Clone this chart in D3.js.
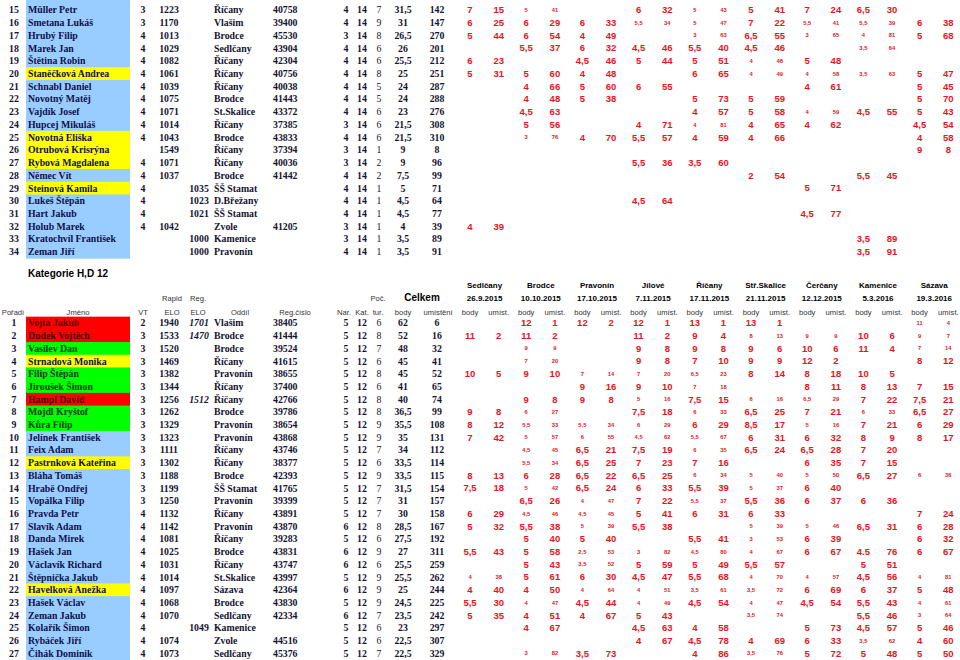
<!DOCTYPE html>
<html>
<head>
<meta charset="utf-8">
<script src="https://cdn.jsdelivr.net/npm/d3@7"></script>
<style>
  body { margin: 0; background: #fff; }
  svg { display: block; }
</style>
</head>
<body>
<script>
// turnaje
const tournaments = ['Sedlčany', 'Brodce', 'Pravonín', 'Jílové', 'Říčany', 'Stř.Skalice', 'Čerčany', 'Kamenice', 'Sázava'];
const tournamentDates = ['26.9.2015', '10.10.2015', '17.10.2015', '7.11.2015', '17.11.2015', '21.11.2015', '12.12.2015', '5.3.2016', '19.3.2016'];

// kategorie 14 (pokracovani) - b modra, y zluta
const k14Rank = [15, 16, 17, 18, 19, 20, 21, 22, 23, 24, 25, 26, 27, 28, 29, 30, 31, 32, 33, 34];
const k14Name = ['Müller Petr', 'Smetana Lukáš', 'Hrubý Filip', 'Marek Jan', 'Štětina Robin', 'Staněčková Andrea',
  'Schnabl Daniel', 'Novotný Matěj', 'Vajdík Josef', 'Hupcej Mikuláš', 'Novotná Eliška', 'Otrubová Krisrýna',
  'Rybová Magdalena', 'Němec Vít', 'Steinová Kamila', 'Lukeš Štěpán', 'Hart Jakub', 'Holub Marek',
  'Kratochvíl František', 'Zeman Jiří'];
const k14Mark = ['b', 'b', 'b', 'b', 'b', 'y', 'b', 'b', 'b', 'b', 'y', 'y', 'y', 'b', 'y', 'b', 'b', 'b', 'b', 'b'];
const k14VT = ['3', '3', '4', '4', '4', '4', '4', '4', '4', '4', '4', '', '4', '4', '4', '4', '4', '4', '', ''];
const k14Rapid = ['1223', '1170', '1013', '1029', '1082', '1061', '1039', '1075', '1071', '1014', '1043', '1549',
  '1071', '1037', '', '', '', '1042', '', ''];
const k14Reg = ['', '', '', '', '', '', '', '', '', '', '', '', '', '', '1035', '1023', '1021', '', '1000', '1000'];
const k14Club = ['Říčany', 'Vlašim', 'Brodce', 'Sedlčany', 'Říčany', 'Říčany', 'Říčany', 'Brodce', 'St.Skalice',
  'Říčany', 'Brodce', 'Říčany', 'Říčany', 'Brodce', 'ŠŠ Stamat', 'D.Břežany', 'ŠŠ Stamat', 'Zvole', 'Kamenice', 'Pravonín'];
const k14RegNo = ['40758', '39400', '45530', '43904', '42304', '40756', '40038', '41443', '43372', '37385', '43833',
  '37394', '40036', '41442', '', '', '', '41205', '', ''];
const k14Nar = [4, 4, 3, 4, 4, 4, 4, 4, 4, 3, 4, 3, 3, 4, 4, 4, 4, 3, 3, 4];
const k14Kat = [14, 14, 14, 14, 14, 14, 14, 14, 14, 14, 14, 14, 14, 14, 14, 14, 14, 14, 14, 14];
const k14Tur = [7, 9, 8, 6, 6, 8, 5, 5, 6, 6, 6, 1, 2, 2, 1, 1, 1, 1, 1, 1];
const k14Body = [31.5, 31, 26.5, 26, 25.5, 25, 24, 24, 23, 21.5, 21.5, 9, 9, 7.5, 5, 4.5, 4.5, 4, 3.5, 3.5];
const k14Place = [142, 147, 270, 201, 212, 251, 287, 288, 276, 308, 310, 8, 96, 99, 71, 64, 77, 39, 89, 91];
// body:umisteni po turnajich, x = nezapocitano, - = nehral
const k14Res = [
  '7:15 5:41x - 6:32 5:43x 5:41 7:24 6,5:30 -',
  '6:25 6:29 6:33 5,5:34x 5:47x 7:22 5,5:41x 5,5:39x 6:38',
  '5:44 6:54 4:49 - 3:63x 6,5:55 3:65x 4:81x 5:68',
  '- 5,5:37 6:32 4,5:46 5,5:40 4,5:46 - 3,5:64x -',
  '6:23 - 4,5:46 5:44 5:51 4:48x 5:48 - -',
  '5:31 5:60 4:48 - 6:65 4:49x 4:58x 3,5:63x 5:47',
  '- 4:66 5:60 6:55 - - 4:61 - 5:45',
  '- 4:48 5:38 - 5:73 5:59 - - 5:70',
  '- 4,5:63 - - 4:57 5:58 4:59x 4,5:55 5:43',
  '- 5:56 - 4:71 4:81x 4:65 4:62 - 4,5:54',
  '- 3:76x 4:70 5,5:57 4:59 4:66 - - 4:58',
  '- - - - - - - - 9:8',
  '- - - 5,5:36 3,5:60 - - - -',
  '- - - - - 2:54 - 5,5:45 -',
  '- - - - - - 5:71 - -',
  '- - - 4,5:64 - - - - -',
  '- - - - - - 4,5:77 - -',
  '4:39 - - - - - - - -',
  '- - - - - - - 3,5:89 -',
  '- - - - - - - 3,5:91 -'
];

// kategorie H,D 12 - r cervena, g zelena, y zluta, b modra
const k12Rank = [1, 2, 3, 4, 5, 6, 7, 8, 9, 10, 11, 12, 13, 14, 15, 16, 17, 18, 19, 20, 21, 22, 23, 24, 25, 26, 27];
const k12Name = ['Vojta Jakub', 'Dudek Vojtěch', 'Vasilev Dan', 'Strnadová Monika', 'Filip Štěpán', 'Jiroušek Šimon',
  'Hampl David', 'Mojdl Kryštof', 'Kůra Filip', 'Jelínek František', 'Feix Adam', 'Pastrnková Kateřina',
  'Bláha Tomáš', 'Hrabě Ondřej', 'Vopálka Filip', 'Pravda Petr', 'Slavík Adam', 'Danda Mirek', 'Hašek Jan',
  'Václavík Richard', 'Štěpnička Jakub', 'Havelková Anežka', 'Hašek Václav', 'Zeman Jakub', 'Kolařík Šimon',
  'Rybáček Jiří', 'Čihák Dominik'];
const k12Mark = ['r', 'r', 'g', 'y', 'g', 'g', 'r', 'g', 'g', 'b', 'b', 'y', 'b', 'b', 'b', 'b', 'b', 'b', 'b',
  'b', 'b', 'y', 'b', 'b', 'b', 'b', 'b'];
const k12VT = ['2', '3', '3', '3', '3', '3', '3', '3', '3', '3', '3', '3', '3', '3', '3', '4', '4', '4', '4', '4',
  '4', '4', '4', '4', '4', '4', '4'];
const k12Rapid = ['1940', '1533', '1520', '1469', '1382', '1344', '1256', '1262', '1329', '1323', '1111', '1302',
  '1188', '1199', '1250', '1132', '1142', '1081', '1025', '1031', '1014', '1097', '1068', '1070', '', '1074', '1073'];
const k12Reg = ['', '', '', '', '', '', '', '', '', '', '', '', '', '', '', '', '', '', '', '', '', '', '', '', '1049', '', ''];
const k12Fide = ['1701', '1470', '', '', '', '', '1512', '', '', '', '', '', '', '', '', '', '', '', '', '', '', '', '',
  '', '', '', ''];
const k12Club = ['Vlašim', 'Brodce', 'Brodce', 'Říčany', 'Pravonín', 'Říčany', 'Říčany', 'Brodce', 'Pravonín',
  'Pravonín', 'Říčany', 'Říčany', 'Brodce', 'ŠŠ Stamat', 'Pravonín', 'Říčany', 'Pravonín', 'Říčany', 'Brodce',
  'Říčany', 'St.Skalice', 'Sázava', 'Brodce', 'Sedlčany', 'Kamenice', 'Zvole', 'Sedlčany'];
const k12RegNo = ['38405', '41444', '39524', '41615', '38655', '37400', '42766', '39786', '38654', '43868', '43746',
  '38377', '42393', '41765', '39399', '43891', '43870', '39283', '43831', '43747', '43997', '42364', '43830',
  '42334', '', '44516', '45376'];
const k12Nar = [5, 5, 5, 5, 5, 5, 5, 5, 5, 5, 5, 5, 5, 5, 5, 5, 6, 5, 6, 6, 5, 6, 5, 6, 5, 5, 5];
const k12Kat = [12, 12, 12, 12, 12, 12, 12, 12, 12, 12, 12, 12, 12, 12, 12, 12, 12, 12, 12, 12, 12, 12, 12, 12, 12, 12, 12];
const k12Tur = [6, 8, 7, 6, 8, 6, 8, 8, 9, 9, 7, 6, 9, 7, 7, 7, 8, 6, 9, 6, 9, 9, 9, 7, 6, 6, 7];
const k12Body = [62, 52, 48, 45, 45, 41, 40, 36.5, 35.5, 35, 34, 33.5, 33.5, 31.5, 31, 30, 28.5, 27.5, 27, 25.5,
  25.5, 25, 24.5, 23.5, 23, 22.5, 22.5];
const k12Place = [6, 16, 32, 41, 52, 65, 74, 99, 108, 131, 112, 114, 115, 154, 157, 158, 167, 192, 311, 259, 262,
  244, 225, 242, 297, 307, 329];
const k12Res = [
  '- 12:1 12:2 12:1 13:1 13:1 - - 11:4x',
  '11:2 11:2 - 11:2 9:4 8:13x 9:9x 10:6 9:7x',
  '- 9:9x - 9:8 9:8 9:6 10:6 11:4 7:14x',
  '- 7:20x - 9:8 7:10 9:9 12:2 - 8:12',
  '10:5 9:10 7:14x 7:20x 6,5:23x 8:14 8:18 10:5 -',
  '- - 9:16 9:10 7:18x - 8:11 8:13 7:15',
  '- 9:8 9:8 5:16x 7,5:15 6:16x 6,5:29x 7:22 7,5:21',
  '9:8 6:27x - 7,5:18 6:33x 6,5:25 7:21 6:33x 6,5:27',
  '8:12 5,5:33x 5,5:34x 6:29x 6:29 8,5:17 5:16x 7:21 6:29',
  '7:42 5:57x 6:55x 4,5:62x 5,5:67x 6:31 6:32 8:9 8:17',
  '- 4,5:45x 6,5:21 7,5:19 6:35x 6,5:24 6,5:28 7:20 -',
  '- 5,5:34x 6,5:25 7:23 7:16 - 6:35 7:15 -',
  '8:13 6:28 6,5:22 6,5:25 6:34x 5:40x 5:50x 6,5:27 6:36x',
  '7,5:18 5:42x 6,5:24 6:33 5,5:39 5:37x 6:40 - -',
  '- 6,5:26 4:47x 7:22 5,5:37x 5,5:36 6:37 6:36 -',
  '6:29 4,5:46x 4,5:45x 5:41 6:31 6:33 - - 7:24',
  '5:32 5,5:38 5:39x 5,5:38 - 5:39x 5:46x 6,5:31 6:28',
  '- 5:40 5:40 - 5,5:41 3:53x 6:39 - 6:32',
  '5,5:43 5:58 2,5:53x 3:82x 4,5:80x 4:67x 6:67 4.5:76 6:67',
  '- 5:43 3,5:52x 5:59 5:49 5,5:57 - 5:51 -',
  '4:38x 5:61 6:30 4,5:47 5,5:68 4:70x 4:57x 4,5:56 4:81x',
  '4:40 4:50 4:64x 4:51x 3,5:61x 3,5:72x 6:69 6:37 5:48',
  '5,5:30 4:47x 4,5:44 4:49x 4,5:54 4:47x 4,5:54 5,5:43 4:61x',
  '5:35 4:51 4:67 5:43 - 3,5:74x - 5,5:46 3:64x',
  '- 4:67 - 4,5:63 4:58 - 5:73 4,5:57 5:46',
  '- - - 4:67 4,5:78 4:69 6:33 3,5:62x 4:60',
  '- 3:82x 3,5:73 - 4:86 3,5:76x 5:72 5:48 5:50'
];

const w = 960;
const h = 660;
const serif = '"Liberation Serif", "Times New Roman", serif';
const sans = '"Liberation Sans", Arial, sans-serif';
const red = '#e3151d';
const fillFor = { b: '#99ccff', y: '#ffff00', r: '#ff0000', g: '#00ff00' };
const inkFor = { b: '#10104a', y: '#10104a', r: '#4d0000', g: '#0a3d0a' };
const cz = d3.formatLocale({ decimal: ',', thousands: ' ', grouping: [3], currency: ['', ''] }).format('~g');

const svg = d3.select('body').append('svg')
  .attr('width', w)
  .attr('height', h)
  .style('background', '#fff');

// sloupce turnaju
const tx = d3.scaleBand().domain(tournaments).range([456.5, 962.3]);
const bodyX = t => tx(t) + 13.5;
const placeX = t => tx(t) + 42.2;

// sloupce s udaji o hraci
const cols = [
  { key: 'rank', x: 14, anchor: 'middle' },
  { key: 'vt', x: 143, anchor: 'middle' },
  { key: 'rapid', x: 169, anchor: 'middle' },
  { key: 'reg', x: 199, anchor: 'middle' },
  { key: 'fide', x: 199, anchor: 'middle', italic: true },
  { key: 'club', x: 214, anchor: 'start' },
  { key: 'regNo', x: 273, anchor: 'start' },
  { key: 'nar', x: 346, anchor: 'middle' },
  { key: 'kat', x: 362, anchor: 'middle' },
  { key: 'tur', x: 379, anchor: 'middle', light: true },
  { key: 'body', x: 403, anchor: 'middle', fmt: cz },
  { key: 'place', x: 437, anchor: 'middle' }
];

function parseRes(s) {
  return s.split(' ').map((tok, i) => {
    if (tok === '-') return null;
    const m = tok.match(/^([\d,.]+):(\d+)(x?)$/);
    return { t: tournaments[i], body: m[1], place: m[2], counted: m[3] !== 'x' };
  }).filter(d => d);
}

function buildRows(p) {
  return p.rank.map((r, i) => ({
    rank: r, name: p.name[i], mark: p.mark[i], vt: p.vt[i], rapid: p.rapid[i],
    reg: p.reg[i], fide: p.fide ? p.fide[i] : '', club: p.club[i], regNo: p.regNo[i],
    nar: p.nar[i], kat: p.kat[i], tur: p.tur[i], body: p.body[i], place: p.place[i],
    res: parseRes(p.res[i])
  }));
}

function section(rows, y, fromTop) {
  const pitch = y(rows[1].rank) - y(rows[0].rank);
  const g = svg.append('g');

  const row = g.selectAll('g.row')
    .data(rows)
    .join('g')
    .attr('class', 'row')
    .attr('transform', d => `translate(0,${y(d.rank)})`);

  row.append('rect')
    .attr('x', 26)
    .attr('width', 104)
    .attr('y', (d, i) => (i === 0 && fromTop ? -y(d.rank) : -pitch / 2))
    .attr('height', (d, i) => (i === 0 && fromTop ? y(d.rank) + pitch / 2 + 0.6 : pitch + 0.6))
    .attr('fill', d => fillFor[d.mark]);

  row.append('text')
    .attr('x', 28)
    .attr('dy', '0.35em')
    .style('font', `bold 9.8px ${serif}`)
    .attr('fill', d => inkFor[d.mark])
    .text(d => d.name);

  cols.forEach(c => {
    row.append('text')
      .attr('x', c.x)
      .attr('dy', '0.35em')
      .attr('text-anchor', c.anchor)
      .style('font-family', serif)
      .style('font-size', '9.8px')
      .style('font-weight', c.light ? 'normal' : 'bold')
      .style('font-style', c.italic ? 'italic' : 'normal')
      .attr('fill', '#141430')
      .text(d => (c.fmt ? c.fmt(d[c.key]) : d[c.key]));
  });

  const res = row.selectAll('g.res')
    .data(d => d.res)
    .join('g')
    .attr('class', 'res')
    .style('font-family', sans)
    .style('font-weight', 'bold')
    .attr('fill', red)
    .attr('text-anchor', 'middle')
    .style('font-size', d => (d.counted ? '9.5px' : '5.8px'));

  res.append('text')
    .attr('x', d => bodyX(d.t))
    .attr('dy', '0.35em')
    .text(d => d.body);
  res.append('text')
    .attr('x', d => placeX(d.t))
    .attr('dy', '0.35em')
    .text(d => d.place);
}

// horni cast - kategorie 14
const rows14 = buildRows({
  rank: k14Rank, name: k14Name, mark: k14Mark, vt: k14VT, rapid: k14Rapid, reg: k14Reg,
  club: k14Club, regNo: k14RegNo, nar: k14Nar, kat: k14Kat, tur: k14Tur, body: k14Body,
  place: k14Place, res: k14Res
});
const y14 = d3.scaleLinear().domain([15, 34]).range([10, 251.7]);
section(rows14, y14, true);

// kategorie H,D 12 - hlavicka
const head = svg.append('g').style('font-family', sans);
head.append('text')
  .attr('x', 28).attr('y', 273).attr('dy', '0.35em')
  .style('font-size', '10px').style('font-weight', 'bold')
  .text('Kategorie H,D 12');

head.selectAll('text.tname')
  .data(tournaments)
  .join('text')
  .attr('class', 'tname')
  .attr('x', t => tx(t) + tx.bandwidth() / 2)
  .attr('y', 285.5).attr('dy', '0.35em')
  .attr('text-anchor', 'middle')
  .style('font-size', '8px').style('font-weight', 'bold')
  .text(t => t);

head.selectAll('text.tdate')
  .data(tournamentDates)
  .join('text')
  .attr('class', 'tdate')
  .attr('x', (d, i) => tx(tournaments[i]) + tx.bandwidth() / 2)
  .attr('y', 298).attr('dy', '0.35em')
  .attr('text-anchor', 'middle')
  .style('font-size', '8px').style('font-weight', 'bold')
  .text(d => d);

const headLabels = [
  { text: 'Rapid', x: 172, y: 298 }, { text: 'Reg.', x: 198, y: 298 }, { text: 'Poč.', x: 378, y: 298 },
  { text: 'Pořadí', x: 13, y: 312 }, { text: 'Jméno', x: 78, y: 312 }, { text: 'VT', x: 143, y: 312 },
  { text: 'ELO', x: 172, y: 312 }, { text: 'ELO', x: 198, y: 312 }, { text: 'Oddíl', x: 240, y: 312 },
  { text: 'Reg.číslo', x: 295, y: 312 }, { text: 'Nar.', x: 344, y: 312 }, { text: 'Kat.', x: 362, y: 312 },
  { text: 'tur.', x: 378, y: 312 }, { text: 'body', x: 403, y: 312 }, { text: 'umístění', x: 438, y: 312 }
];
tournaments.forEach(t => {
  headLabels.push({ text: 'body', x: bodyX(t), y: 312 });
  headLabels.push({ text: 'umíst.', x: placeX(t), y: 312 });
});
head.selectAll('text.lab')
  .data(headLabels)
  .join('text')
  .attr('class', 'lab')
  .attr('x', d => d.x).attr('y', d => d.y).attr('dy', '0.35em')
  .attr('text-anchor', 'middle')
  .style('font-size', '7.6px')
  .attr('fill', '#333')
  .text(d => d.text);

head.append('text')
  .attr('x', 422).attr('y', 297).attr('dy', '0.35em')
  .attr('text-anchor', 'middle')
  .style('font-size', '10px').style('font-weight', 'bold')
  .text('Celkem');

const rows12 = buildRows({
  rank: k12Rank, name: k12Name, mark: k12Mark, vt: k12VT, rapid: k12Rapid, reg: k12Reg, fide: k12Fide,
  club: k12Club, regNo: k12RegNo, nar: k12Nar, kat: k12Kat, tur: k12Tur, body: k12Body,
  place: k12Place, res: k12Res
});
const y12 = d3.scaleLinear().domain([1, 27]).range([323, 653.3]);
section(rows12, y12, false);
</script>
</body>
</html>
